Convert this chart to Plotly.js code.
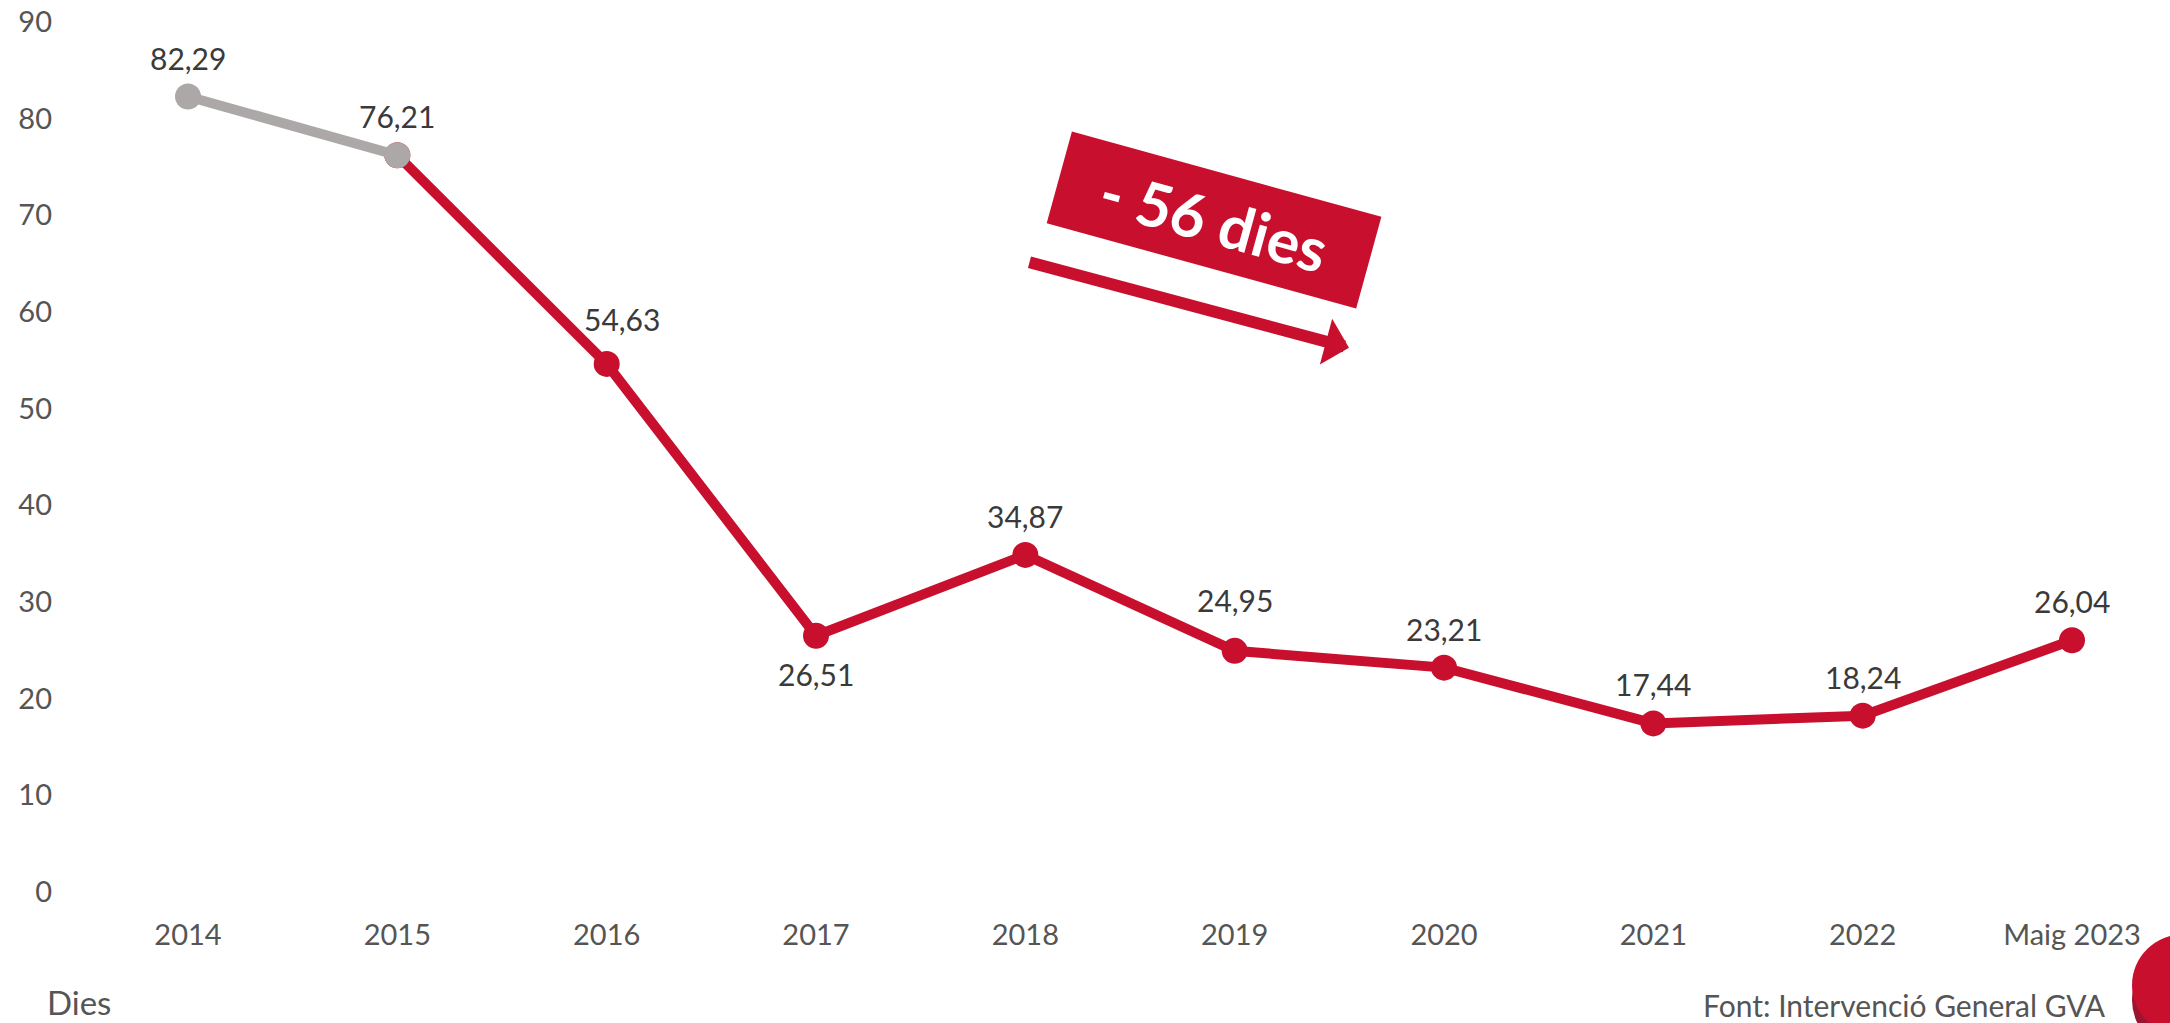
<!DOCTYPE html>
<html>
<head>
<meta charset="utf-8">
<script src="https://cdn.plot.ly/plotly-3.0.1.min.js"></script>
<style>
html,body{margin:0;padding:0;background:#fff;}
#chart{width:2170px;height:1023px;}
</style>
</head>
<body>
<div id="chart"></div>
<script>
const categories = ['2014','2015','2016','2017','2018','2019','2020','2021','2022','Maig 2023'];
const values = [82.29, 76.21, 54.63, 26.51, 34.87, 24.95, 23.21, 17.44, 18.24, 26.04];
const labelSides = ['top','top','top','bottom','top','top','top','top','top','top'];
const yTicks = [0,10,20,30,40,50,60,70,80,90];
const greyCount = 2; // 2014-2015 drawn in grey
const changeLabel = '- 56 dies';
const unitLabel = 'Dies';
const sourceLabel = 'Font: Intervenció General GVA';

const RED = '#c8102e';
const GREY = '#aca8a8';
const FONT = 'Lato, "Open Sans", sans-serif';

const redTrace = {
  x: categories.slice(greyCount-1), y: values.slice(greyCount-1),
  type: 'scatter', mode: 'lines+markers',
  line: {color: RED, width: 10},
  marker: {color: RED, size: 26},
  hoverinfo: 'skip', cliponaxis: false
};
const greyTrace = {
  x: categories.slice(0, greyCount), y: values.slice(0, greyCount),
  type: 'scatter', mode: 'lines+markers',
  line: {color: GREY, width: 10},
  marker: {color: GREY, size: 26},
  hoverinfo: 'skip', cliponaxis: false
};

// pixel helpers for layout items (plot area: left 70, width 2100, top 22, height 870)
const L = 70, W = 2100, T = 22, H = 870;
const px = v => (v - L) / W;
const py = v => (T + H - v) / H;

// extra nudges (px) so some labels clear the line: index -> [dx, dy]
const labelNudge = {2: [15, 6], 5: [0, 12]};

// value labels: category index on the category axis
const valueLabels = categories.map((c, i) => {
  const n = labelNudge[i] || [0, 0];
  return {
    xref: 'x', yref: 'y', x: i, y: values[i],
    text: values[i].toFixed(2).replace('.', ','),
    showarrow: false, xanchor: 'center', yanchor: 'middle',
    xshift: n[0],
    yshift: (labelSides[i] === 'top' ? 39 : -38) + n[1],
    font: {family: FONT, size: 30, color: '#3a3a3a'}
  };
});

const layout = {
  width: 2170, height: 1023,
  margin: {l: L, r: 2170 - L - W, t: T, b: 1023 - T - H, pad: 0},
  paper_bgcolor: '#fff', plot_bgcolor: '#fff',
  showlegend: false,
  font: {family: FONT, color: '#555555'},
  xaxis: {
    type: 'category', categoryorder: 'array', categoryarray: categories,
    range: [-0.5637, 9.468],
    showgrid: false, zeroline: false, showline: false, ticks: '',
    tickfont: {family: FONT, size: 29, color: '#555555'},
    ticklabelstandoff: 23, fixedrange: true
  },
  yaxis: {
    range: [0, 90], tickvals: yTicks,
    showgrid: false, zeroline: false, showline: false, ticks: '',
    tickfont: {family: FONT, size: 29, color: '#555555'},
    ticklabelstandoff: 17, fixedrange: true
  },
  annotations: valueLabels.concat([
    {
      xref: 'x', yref: 'y', x: 4.901, y: 69.5,
      text: '<b>' + changeLabel + '</b>', showarrow: false,
      textangle: 15.4, width: 320, height: 94, borderpad: 0,
      bgcolor: RED, align: 'center', valign: 'middle',
      font: {family: FONT, size: 61, color: '#ffffff', weight: 900}
    },
    {
      xref: 'x', yref: 'y', x: 5.546, y: 56.3,
      ax: -321, ay: -86, text: '', showarrow: true,
      arrowhead: 1, arrowsize: 0.66, arrowwidth: 12, arrowcolor: RED, standoff: 0
    },
    {
      xref: 'paper', yref: 'paper', x: px(45), y: py(1002),
      xanchor: 'left', yanchor: 'middle', showarrow: false,
      text: unitLabel, font: {family: FONT, size: 33, color: '#555555'}
    },
    {
      xref: 'paper', yref: 'paper', x: px(2108), y: py(1005),
      xanchor: 'right', yanchor: 'middle', showarrow: false,
      text: sourceLabel, font: {family: FONT, size: 30, color: '#555555'}
    }
  ]),
  shapes: [
    {type: 'circle', xref: 'paper', yref: 'paper', layer: 'above',
     x0: px(2132), x1: px(2236), y0: py(1052), y1: py(948),
     fillcolor: '#9b1530', line: {width: 0}},
    {type: 'circle', xref: 'paper', yref: 'paper', layer: 'above',
     x0: px(2132), x1: px(2236), y0: py(1036), y1: py(934),
     fillcolor: RED, line: {width: 0}}
  ]
};

Plotly.newPlot('chart', [redTrace, greyTrace], layout, {displayModeBar: false, staticPlot: true});
</script>
</body>
</html>
